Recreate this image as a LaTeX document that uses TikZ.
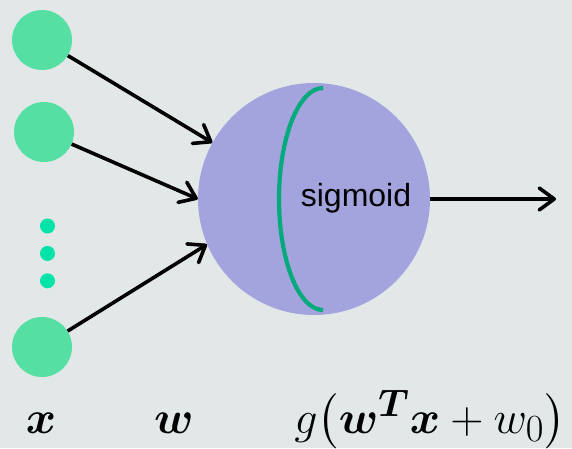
\documentclass[tikz,border=0pt]{standalone}
\usepackage{amsmath}
\usepackage{graphicx}
\usepackage{fontspec}
\newfontfamily\sigfont{Liberation Sans}
\usepackage{tikz}
\usetikzlibrary{arrows.meta,positioning}

\definecolor{bgcol}{HTML}{E2E8E8}
\definecolor{inpgreen}{HTML}{55DFA2}
\definecolor{dotgreen}{HTML}{00E3A8}
\definecolor{neuronblue}{HTML}{A3A3DE}
\definecolor{arcgreen}{HTML}{00AA7A}

\newcommand{\biglbl}[1]{\scalebox{1.85}{\Huge #1}}

\begin{document}
\begin{tikzpicture}[
    x=1pt, y=1pt,
    inpt/.style={circle, fill=inpgreen, minimum size=60pt, inner sep=0pt},
    smalldot/.style={circle, fill=dotgreen, minimum size=15pt, inner sep=0pt},
    neuron/.style={circle, fill=neuronblue, minimum size=232pt, inner sep=0pt},
    wire/.style={-{Straight Barb[length=15pt,width=22pt,round]}, line width=3.6pt},
    lbl/.style={anchor=base, inner sep=0pt},
]
\fill[bgcol] (0,0) rectangle (572,448);
\useasboundingbox (0,0) rectangle (572,448);

\node[inpt] (x1) at (42,408) {};
\node[inpt] (x2) at (44,316) {};
\node[smalldot] (d1) at (47.5,222) {};
\node[smalldot, below=12pt of d1] (d2) {};
\node[smalldot, below=12pt of d2] (d3) {};
\node[inpt] (x3) at (42,101) {};

\node[neuron] (neuron) at (314,249) {};
\draw[arcgreen, line width=4.2pt] (323,360) arc[start angle=90, end angle=270, x radius=44, y radius=111];
\node[font=\sigfont\fontsize{32}{36}\selectfont] (sig) at (356,250) {sigmoid};
\coordinate (out) at (556,249);

\draw[wire] (x1) -- (neuron.151);
\draw[wire] (x2) -- (neuron.180);
\draw[wire] (x3) -- (neuron.203);
\draw[wire] (neuron.east) -- (out);

\node[lbl] (xlbl) at (41,15) {\biglbl{$\boldsymbol{x}$}};
\node[lbl] (wlbl) at (174,15) {\biglbl{$\boldsymbol{w}$}};
\node[lbl] (glbl) at (430,15) {\biglbl{$g\bigl(\boldsymbol{w}^{\boldsymbol{T}}\boldsymbol{x}+w_0\bigr)$}};
\end{tikzpicture}
\end{document}
